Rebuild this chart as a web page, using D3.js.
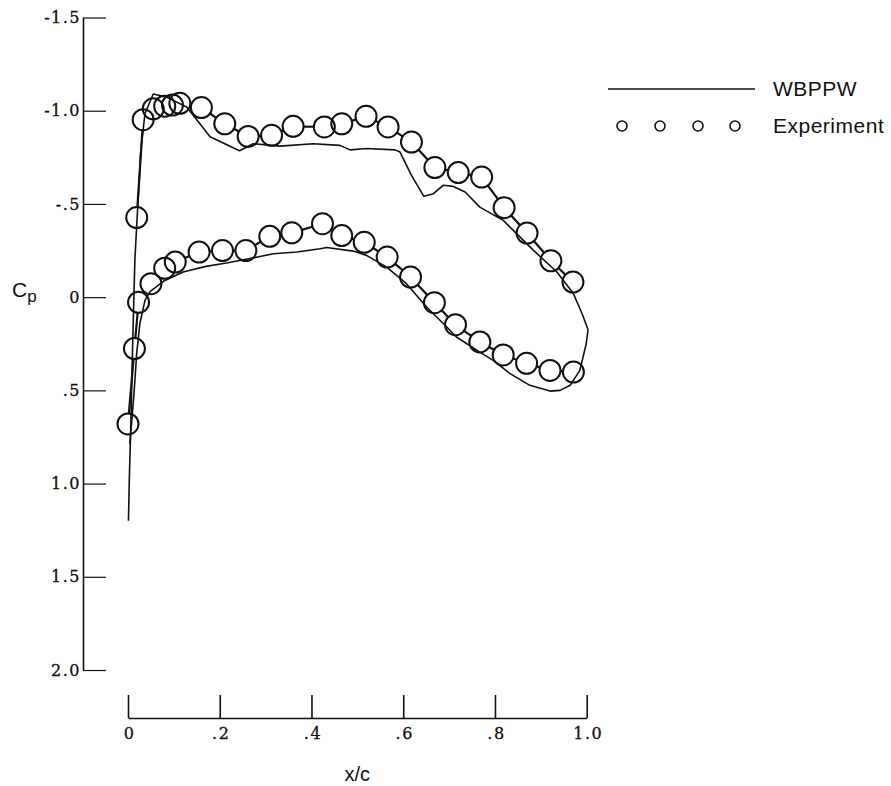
<!DOCTYPE html>
<html>
<head>
<meta charset="utf-8">
<script src="https://cdn.jsdelivr.net/npm/d3@7"></script>
<style>
  html, body { margin: 0; padding: 0; background: #fff; }
  svg { display: block; }
</style>
</head>
<body>
<svg id="chart" width="891" height="786"></svg>
<script>
// ---- Data ----
// WBPPW computation, upper surface (x/c, Cp)
const wbUpperX  = [0.001, 0.003, 0.006, 0.010, 0.015, 0.020, 0.028, 0.037, 0.055, 0.084, 0.128, 0.179, 0.243, 0.273, 0.331, 0.404, 0.462, 0.484, 0.520, 0.582, 0.593, 0.618, 0.645, 0.666, 0.687, 0.709, 0.735, 0.767, 0.818, 0.840, 0.884, 0.935, 0.971, 0.990, 1.003];
const wbUpperCp = [1.20, 0.965, 0.70, 0.27, -0.20, -0.43, -0.79, -0.985, -1.09, -1.073, -1.02, -0.86, -0.785, -0.823, -0.81, -0.823, -0.814, -0.79, -0.797, -0.79, -0.778, -0.653, -0.541, -0.555, -0.60, -0.594, -0.564, -0.483, -0.412, -0.358, -0.251, -0.135, -0.019, 0.089, 0.175];
// WBPPW computation, lower surface (x/c, Cp)
const wbLowerX  = [0.004, 0.013, 0.019, 0.026, 0.037, 0.048, 0.077, 0.120, 0.170, 0.215, 0.266, 0.317, 0.368, 0.419, 0.433, 0.491, 0.520, 0.564, 0.607, 0.651, 0.680, 0.695, 0.716, 0.767, 0.796, 0.833, 0.876, 0.920, 0.942, 0.964, 0.985, 0.999, 1.003];
const wbLowerCp = [0.787, 0.52, 0.30, 0.14, 0.017, -0.03, -0.085, -0.135, -0.165, -0.183, -0.207, -0.233, -0.242, -0.26, -0.266, -0.247, -0.224, -0.161, -0.072, 0.053, 0.124, 0.16, 0.214, 0.295, 0.339, 0.41, 0.473, 0.504, 0.50, 0.473, 0.393, 0.25, 0.175];
// Experiment, upper surface
const expUpperX  = [0.019, 0.033, 0.055, 0.080, 0.097, 0.113, 0.160, 0.211, 0.262, 0.313, 0.360, 0.428, 0.466, 0.519, 0.567, 0.618, 0.669, 0.720, 0.771, 0.820, 0.870, 0.922, 0.970];
const expUpperCp = [-0.427, -0.952, -1.01, -1.024, -1.03, -1.04, -1.017, -0.93, -0.862, -0.868, -0.916, -0.913, -0.93, -0.97, -0.913, -0.832, -0.695, -0.668, -0.644, -0.48, -0.344, -0.195, -0.081];
// Experiment, lower surface
const expLowerX  = [0.000, 0.014, 0.023, 0.050, 0.080, 0.103, 0.155, 0.206, 0.257, 0.309, 0.357, 0.424, 0.466, 0.515, 0.565, 0.616, 0.668, 0.714, 0.767, 0.818, 0.869, 0.920, 0.971];
const expLowerCp = [0.68, 0.276, 0.028, -0.072, -0.155, -0.188, -0.242, -0.25, -0.25, -0.326, -0.345, -0.394, -0.33, -0.294, -0.215, -0.108, 0.03, 0.148, 0.24, 0.31, 0.355, 0.393, 0.402];

const xTicks = [0, 0.2, 0.4, 0.6, 0.8, 1.0];
const xTickLabels = ["0", ".2", ".4", ".6", ".8", "1.0"];
const yTicks = [-1.5, -1.0, -0.5, 0, 0.5, 1.0, 1.5, 2.0];
const yTickLabels = ["-1.5", "-1.0", "-.5", "0", ".5", "1.0", "1.5", "2.0"];
const legendNames = ["WBPPW", "Experiment"];

// ---- Chart ----
const svg = d3.select("#chart");
const x = d3.scaleLinear().domain([0, 1]).range([128, 586.7]);
const y = d3.scaleLinear().domain([-1.5, 2.0]).range([17.5, 670]);
const ink = "#111";
const serif = "'DejaVu Serif', 'Liberation Serif', serif";
const sans = "'Liberation Sans', Arial, sans-serif";

function styleTicks(g) {
  g.attr("font-family", serif).attr("font-size", 16);
  g.selectAll(".tick text")
    .attr("font-family", serif).attr("font-size", 16)
    .attr("fill", ink).attr("letter-spacing", 1.5)
    .attr("stroke", ink).attr("stroke-width", 0.3);
}

// Y axis
const yAxis = d3.axisLeft(y).tickValues(yTicks)
  .tickFormat((d, i) => yTickLabels[i])
  .tickSizeInner(-23).tickSizeOuter(0).tickPadding(2);
const gy = svg.append("g").attr("transform", "translate(83,0)").call(yAxis);
gy.selectAll("path.domain").attr("stroke", ink).attr("stroke-width", 1.6);
gy.selectAll(".tick line").attr("stroke", ink).attr("stroke-width", 1.2);
styleTicks(gy);

// X axis
const xAxis = d3.axisBottom(x).tickValues(xTicks)
  .tickFormat((d, i) => xTickLabels[i])
  .tickSizeInner(-23).tickSizeOuter(0).tickPadding(10);
const gx = svg.append("g").attr("transform", "translate(0,718)").call(xAxis);
gx.selectAll("path.domain").attr("stroke", ink).attr("stroke-width", 1.6);
gx.selectAll(".tick line").attr("stroke", ink).attr("stroke-width", 1.6);
styleTicks(gx);
gx.selectAll(".tick text").attr("dx", "1px");

// Axis labels
const cp = svg.append("text").attr("x", 12).attr("y", 297)
  .attr("font-family", sans).attr("font-size", 21).attr("fill", ink);
cp.append("tspan").text("C");
cp.append("tspan").attr("font-size", 17).attr("dy", 5).text("p");

svg.append("text").attr("x", (x(0) + x(1)) / 2).attr("y", 781)
  .attr("font-family", sans).attr("fill", ink)
  .attr("text-anchor", "middle").attr("font-size", 20).text("x/c");

// WBPPW lines
const line = d3.line().x(d => x(d[0])).y(d => y(d[1])).curve(d3.curveLinear);
const wbUpper = wbUpperX.map((v, i) => [v, wbUpperCp[i]]);
const wbLower = wbLowerX.map((v, i) => [v, wbLowerCp[i]]);
[wbUpper, wbLower].forEach(s => {
  svg.append("path").datum(s).attr("d", line)
    .attr("fill", "none").attr("stroke", ink).attr("stroke-width", 1.6)
    .attr("stroke-linejoin", "round");
});

// Experiment: connectors + circles
const R = 10.5;
const expUpper = expUpperX.map((v, i) => [v, expUpperCp[i]]);
const expLower = expLowerX.map((v, i) => [v, expLowerCp[i]]);
[expUpper, expLower].forEach(s => {
  const segs = [];
  for (let i = 0; i < s.length - 1; i++) {
    const x1 = x(s[i][0]), y1 = y(s[i][1]), x2 = x(s[i + 1][0]), y2 = y(s[i + 1][1]);
    const dx = x2 - x1, dy = y2 - y1, d = Math.hypot(dx, dy);
    if (d > 2 * R + 0.5) {
      const ux = dx / d, uy = dy / d;
      segs.push([x1 + ux * R, y1 + uy * R, x2 - ux * R, y2 - uy * R]);
    }
  }
  svg.append("g").selectAll("line").data(segs).join("line")
    .attr("x1", d => d[0]).attr("y1", d => d[1]).attr("x2", d => d[2]).attr("y2", d => d[3])
    .attr("stroke", ink).attr("stroke-width", 2.2);
  svg.append("g").selectAll("circle").data(s).join("circle")
    .attr("cx", d => x(d[0])).attr("cy", d => y(d[1])).attr("r", R)
    .attr("fill", "none").attr("stroke", ink).attr("stroke-width", 2);
});

// Legend
const lg = svg.append("g");
lg.append("line").attr("x1", 608).attr("x2", 755).attr("y1", 89).attr("y2", 89)
  .attr("stroke", ink).attr("stroke-width", 1.4);
lg.append("text").attr("x", 773).attr("y", 96).attr("font-family", sans).attr("fill", ink)
  .attr("font-size", 21).attr("letter-spacing", 0.5).text(legendNames[0]);
[622, 660, 698, 735].forEach(cx => {
  lg.append("circle").attr("cx", cx).attr("cy", 126).attr("r", 5)
    .attr("fill", "none").attr("stroke", ink).attr("stroke-width", 1.6);
});
lg.append("text").attr("x", 773).attr("y", 133).attr("font-family", sans).attr("fill", ink)
  .attr("font-size", 21).attr("letter-spacing", 0.5).text(legendNames[1]);
</script>
</body>
</html>
